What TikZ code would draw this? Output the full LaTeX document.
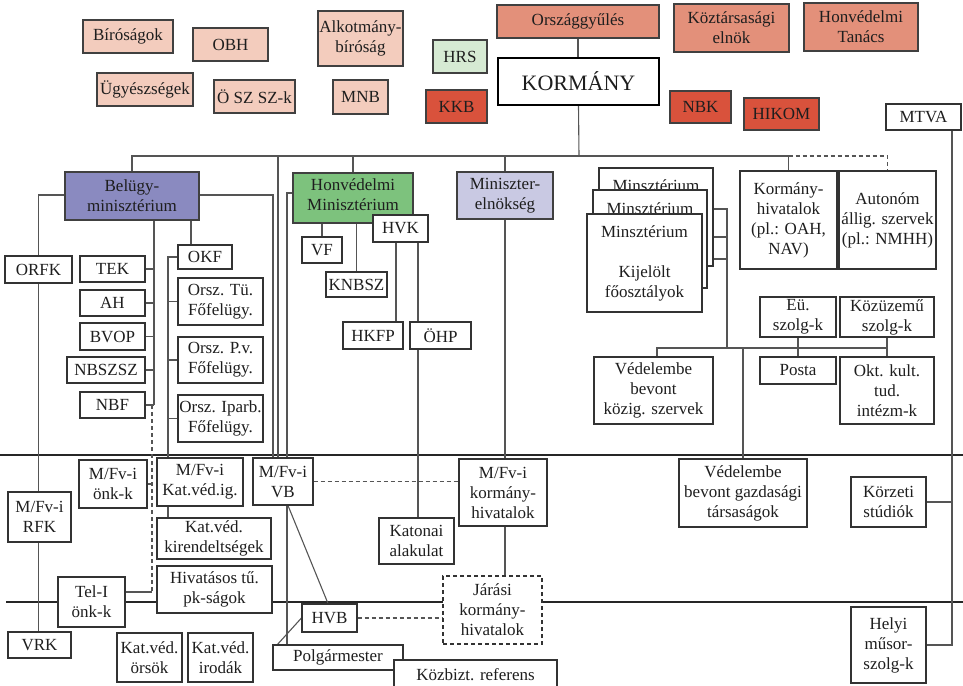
\documentclass[tikz,border=0pt]{standalone}
\usepackage{fontspec}
\setmainfont{Liberation Serif}
\usetikzlibrary{backgrounds}
\definecolor{csalm}{HTML}{F3CCBD}
\definecolor{cmsalm}{HTML}{E3907A}
\definecolor{cred}{HTML}{D9523C}
\definecolor{cgreenl}{HTML}{D6EAD3}
\definecolor{cpurp}{HTML}{8A8AC0}
\definecolor{cgreen}{HTML}{7DC27D}
\definecolor{clav}{HTML}{C9C9E3}
\definecolor{boxline}{HTML}{333333}
\definecolor{cboxline}{HTML}{404040}
\definecolor{connc}{HTML}{555555}
\definecolor{sepc}{HTML}{262626}
\definecolor{textc}{HTML}{1E1E1E}
\begin{document}
\begin{tikzpicture}[x=1pt,y=-1pt,
  sz/.style 2 args={minimum width=#1pt,minimum height=#2pt},
  box/.style={draw=boxline,line width=1.1pt,fill=white,inner sep=0pt,align=center,
    font=\fontsize{17}{20}\selectfont,text=textc},
  cbox/.style={box,draw=cboxline,line width=1.3pt},
  txt/.style={inner sep=0pt,align=center,font=\fontsize{17}{20}\selectfont,text=textc},
  conn/.style={draw=connc,line width=1.1pt},
  dconn/.style={conn,dash pattern=on 4pt off 3pt},
  sepline/.style={draw=sepc,line width=2.2pt}]
\useasboundingbox (0,0) rectangle (963,685);

% ---------- top boxes ----------
\node[cbox,fill=csalm,sz={90}{33}] (bir) at (128,36.5) {Bíróságok};
\node[cbox,fill=csalm,sz={75}{33}] (obh) at (230.5,44.5) {OBH};
\node[cbox,fill=csalm,sz={85}{55}] (ab) at (360.5,38.5) {Alkotmány-\\bíróság};
\node[cbox,fill=cgreenl,sz={54}{33}] (hrs) at (460,56.5) {HRS};
\node[cbox,fill=csalm,sz={96}{33}] (ugy) at (145,89.5) {Ügyészségek};
\node[cbox,fill=csalm,sz={81}{33}] (osz) at (254.5,96.5) {Ö SZ SZ-k};
\node[cbox,fill=csalm,sz={55}{34}] (mnb) at (360.5,97) {MNB};
\node[cbox,fill=cred,sz={61}{33}] (kkb) at (456.5,106.5) {KKB};
\node[cbox,fill=cmsalm,sz={162}{33}] (ogy) at (578,21.5) {Országgyűlés};
\node[cbox,fill=cmsalm,sz={115}{48}] (ke) at (731.5,28) {Köztársasági\\elnök};
\node[cbox,fill=cmsalm,sz={114}{48}] (ht) at (861,27) {Honvédelmi\\Tanács};
\node[box,draw=black,line width=2.4pt,sz={161}{47},font=\fontsize{22}{26}\selectfont] (korm) at (578.5,81.5) {KORMÁNY};
\node[cbox,fill=cred,sz={61}{32}] (nbk) at (700.5,107) {NBK};
\node[cbox,fill=cred,sz={75}{32}] (hikom) at (781.5,114) {HIKOM};
\node[box,sz={75}{26}] (mtva) at (923.5,117) {MTVA};

% ---------- ministries ----------
\node[cbox,fill=cpurp,sz={134}{48}] (bel) at (132,196) {Belügy-\\minisztérium};
\node[box,sz={67}{27}] (orfk) at (38.5,269.5) {ORFK};
\node[box,sz={65}{26}] (tek) at (112.5,269) {TEK};
\node[box,sz={65}{26}] (ah) at (112.5,303) {AH};
\node[box,sz={65}{27}] (bvop) at (112.5,336.5) {BVOP};
\node[box,sz={78}{26}] (nbszsz) at (106,370) {NBSZSZ};
\node[box,sz={65}{26}] (nbf) at (112.5,405) {NBF};
\node[box,sz={54}{24}] (okf) at (205,257) {OKF};
\node[box,sz={85}{47}] (otu) at (220.5,301.5) {Orsz. Tü.\\Főfelügy.};
\node[box,sz={85}{46}] (opv) at (220.5,360) {Orsz. P.v.\\Főfelügy.};
\node[box,sz={85}{47}] (oip) at (220.5,418.5) {Orsz. Iparb.\\Főfelügy.};

\node[cbox,fill=cgreen,sz={120}{50}] (hm) at (353,198) {};
\node[txt] (hmt) at (353,194.5) {Honvédelmi\\Minisztérium};
\node[box,sz={40}{26}] (vf) at (322,250) {VF};
\node[box,sz={61}{25}] (knbsz) at (356.5,284.5) {KNBSZ};
\node[box,sz={55}{27}] (hvk) at (400.5,228.5) {HVK};
\node[box,sz={60}{27}] (hkfp) at (373,335.5) {HKFP};
\node[box,sz={61}{27}] (ohp) at (440.5,335.5) {ÖHP};

\node[cbox,fill=clav,sz={96}{47}] (me) at (505,195.5) {Miniszter-\\elnökség};

\node[box,sz={114}{98}] (min3) at (656,217) {};
\node[txt] (min3t) at (656,186) {Minsztérium};
\node[box,sz={114}{98}] (min2) at (650,239) {};
\node[txt] (min2t) at (650,209) {Minsztérium};
\node[box,sz={115}{98}] (min1) at (644.5,263) {Minsztérium\\[20pt]Kijelölt\\főosztályok};

\node[box,sz={97}{98}] (kh) at (788.5,220) {Kormány-\\hivatalok\\(pl.: OAH,\\NAV)};
\node[box,sz={97}{98}] (aut) at (887.5,220) {Autonóm\\állig. szervek\\(pl.: NMHH)};
\node[box,sz={76}{40}] (eu) at (798,317) {Eü.\\szolg-k};
\node[box,sz={94}{40}] (koz) at (887,317) {Közüzemű\\szolg-k};
\node[box,sz={76}{27}] (posta) at (798,370.5) {Posta};
\node[box,sz={94}{67}] (okt) at (887,390.5) {Okt. kult.\\tud.\\intézm-k};
\node[box,sz={119}{67}] (vkoz) at (653.5,390.5) {Védelembe\\bevont\\közig. szervek};

% ---------- lower levels ----------
\node[box,sz={63}{50}] (rfk) at (39.5,517) {M/Fv-i\\RFK};
\node[box,sz={63}{26}] (vrk) at (39.5,645) {VRK};
\node[box,sz={68}{48}] (onk) at (113,484) {M/Fv-i\\önk-k};
\node[box,sz={67}{50}] (telo) at (91.5,602) {Tel-I\\önk-k};
\node[box,sz={86}{48}] (kvig) at (200,482) {M/Fv-i\\Kat.véd.ig.};
\node[box,sz={114}{41}] (kvk) at (214,538.5) {Kat.véd.\\kirendeltségek};
\node[box,sz={115}{47}] (hiv) at (214.5,589.5) {Hivatásos tű.\\pk-ságok};
\node[box,sz={65}{49}] (kvo) at (149.5,657.5) {Kat.véd.\\örsök};
\node[box,sz={65}{49}] (kvi) at (220.5,657.5) {Kat.véd.\\irodák};
\node[box,sz={60}{47}] (vb) at (283,481.5) {M/Fv-i\\VB};
\node[box,sz={55}{28}] (hvb) at (329.5,618) {HVB};
\node[box,sz={130}{25}] (polg) at (338,657.5) {Polgármester};
\node[box,sz={163}{30}] (kozb) at (475.5,675) {Közbizt. referens};
\node[box,sz={75}{46}] (kat) at (416.5,541) {Katonai\\alakulat};
\node[box,sz={88}{67}] (mkh) at (503,492.5) {M/Fv-i\\kormány-\\hivatalok};
\node[box,dash pattern=on 4pt off 3pt,sz={99}{68}] (jar) at (492.5,610) {Járási\\kormány-\\hivatalok};
\node[box,sz={128}{68}] (vgt) at (743,493) {Védelembe\\bevont gazdasági\\társaságok};
\node[box,sz={75}{50}] (korz) at (888.5,502) {Körzeti\\stúdiók};
\node[box,sz={75}{76}] (helyi) at (888.5,645) {Helyi\\műsor-\\szolg-k};

% ---------- helper coordinates ----------
\coordinate (bus) at (579,156);
\coordinate (xa) at (273,0);
\coordinate (xb) at (278,0);
\coordinate (xc) at (287,0);
\coordinate (x154) at (154,0);
\coordinate (x152) at (152,0);
\coordinate (x191) at (191,0);
\coordinate (x168) at (168,0);
\coordinate (x396) at (396,0);
\coordinate (x418) at (418,0);
\coordinate (rb) at (727,348);
\coordinate (x952) at (952,0);
\coordinate (sepA1) at (0,455);
\coordinate (sepA2) at (963,455);
\coordinate (sepB1) at (6,602);
\coordinate (sepB2) at (963,602);

\begin{pgfonlayer}{background}
\draw[sepline] (sepA1) -- (sepA2);
\draw[sepline] (sepB1) -- (sepB2);

% top
\draw[conn] (ogy.south) -- (ogy.south |- korm.north);
\draw[conn] (korm.south) -- (bus);
\draw[conn] (bel.north) |- (bus -| kh.north);
\draw[conn] (kh.north) -- (kh.north |- bus);
\draw[dconn] (kh.north |- bus) -| (aut.north);
\draw[conn] (hm.north) -- (hm.north |- bus);
\draw[conn] (me.north) -- (me.north |- bus);
\draw[conn] (xb |- bus) -- (xb |- vb.north);
\draw[conn] ([yshift=1pt]bel.east) -| (xa |- vb.north);
\draw[conn] ([yshift=5pt]hm.west) -| (xc |- vb.north);
\draw[conn] (xc |- vb.south) -- (xc |- polg.north);
\draw[conn] ([xshift=5pt]vb.south) -- ([xshift=-1.5pt]hvb.north);
\draw[conn] (hvb.west) -- ([xshift=5pt]polg.north west);
\draw[dconn] (vb.east) -- (vb.east -| mkh.west);
\draw[dconn] (hvb.east) -- (hvb.east -| jar.west);
\draw[conn] (me.south) -- (me.south |- mkh.north);
\draw[conn] (me.south |- mkh.south) -- (me.south |- jar.north);

% Belügy
\draw[conn] ([yshift=1pt]bel.west) -| (orfk.north);
\draw[conn] (orfk.south) -- (orfk.south |- rfk.north);
\draw[conn] (orfk.south |- rfk.south) -- (orfk.south |- vrk.north);
\draw[conn] (x154 |- bel.south) -- (x154 |- nbf.east);
\draw[conn] (tek.east) -- (tek.east -| x154);
\draw[conn] (ah.east) -- (ah.east -| x154);
\draw[conn] (bvop.east) -- (bvop.east -| x154);
\draw[conn] (nbszsz.east) -- (nbszsz.east -| x154);
\draw[conn] (nbf.east) -- (nbf.east -| x154);
\draw[dconn] (x152 |- nbf.east) -- ([yshift=10pt]x152 |- telo.east);
\draw[conn] ([yshift=10pt]telo.east) -- ([yshift=10pt]x152 |- telo.east);
\draw[conn] (onk.east) -- (onk.east -| x152);
\draw[conn] (x191 |- bel.south) -- (x191 |- okf.north);
\draw[conn] (okf.west) -| (x168 |- kvig.north);
\draw[conn] (otu.west) -- (otu.west -| x168);
\draw[conn] (opv.west) -- (opv.west -| x168);
\draw[conn] (oip.west) -- (oip.west -| x168);
\draw[conn] (x168 |- kvig.south) -- (x168 |- kvk.north);

% Honvédelmi
\draw[conn] (vf.north) -- (vf.north |- hm.south);
\draw[conn] (knbsz.north) -- (knbsz.north |- hm.south);
\draw[conn] (x396 |- hvk.south) -- (x396 |- hkfp.north);
\draw[conn] (x418 |- hvk.south) -- (x418 |- ohp.north);
\draw[conn] (x418 |- ohp.south) -- (x418 |- kat.north);

% right group
\draw[conn] ([yshift=8pt]min3.east) -| (rb);
\draw[conn] ([yshift=2pt]min2.east) -- ([yshift=2pt]min2.east -| rb);
\draw[conn] ([yshift=4pt]min1.east) -- ([yshift=4pt]min1.east -| rb);
\draw[conn] ([xshift=3.5pt]vkoz.north) |- (okt.north |- rb);
\draw[conn] (okt.north) -- (koz.south);
\draw[conn] (posta.north) -- (eu.south);
\draw[conn] (vgt.north |- rb) -- (vgt.north);

% MTVA
\draw[conn] (x952 |- mtva.south) |- (helyi.east);
\draw[conn] (korz.east) -- (korz.east -| x952);
\end{pgfonlayer}
\end{tikzpicture}
\end{document}
